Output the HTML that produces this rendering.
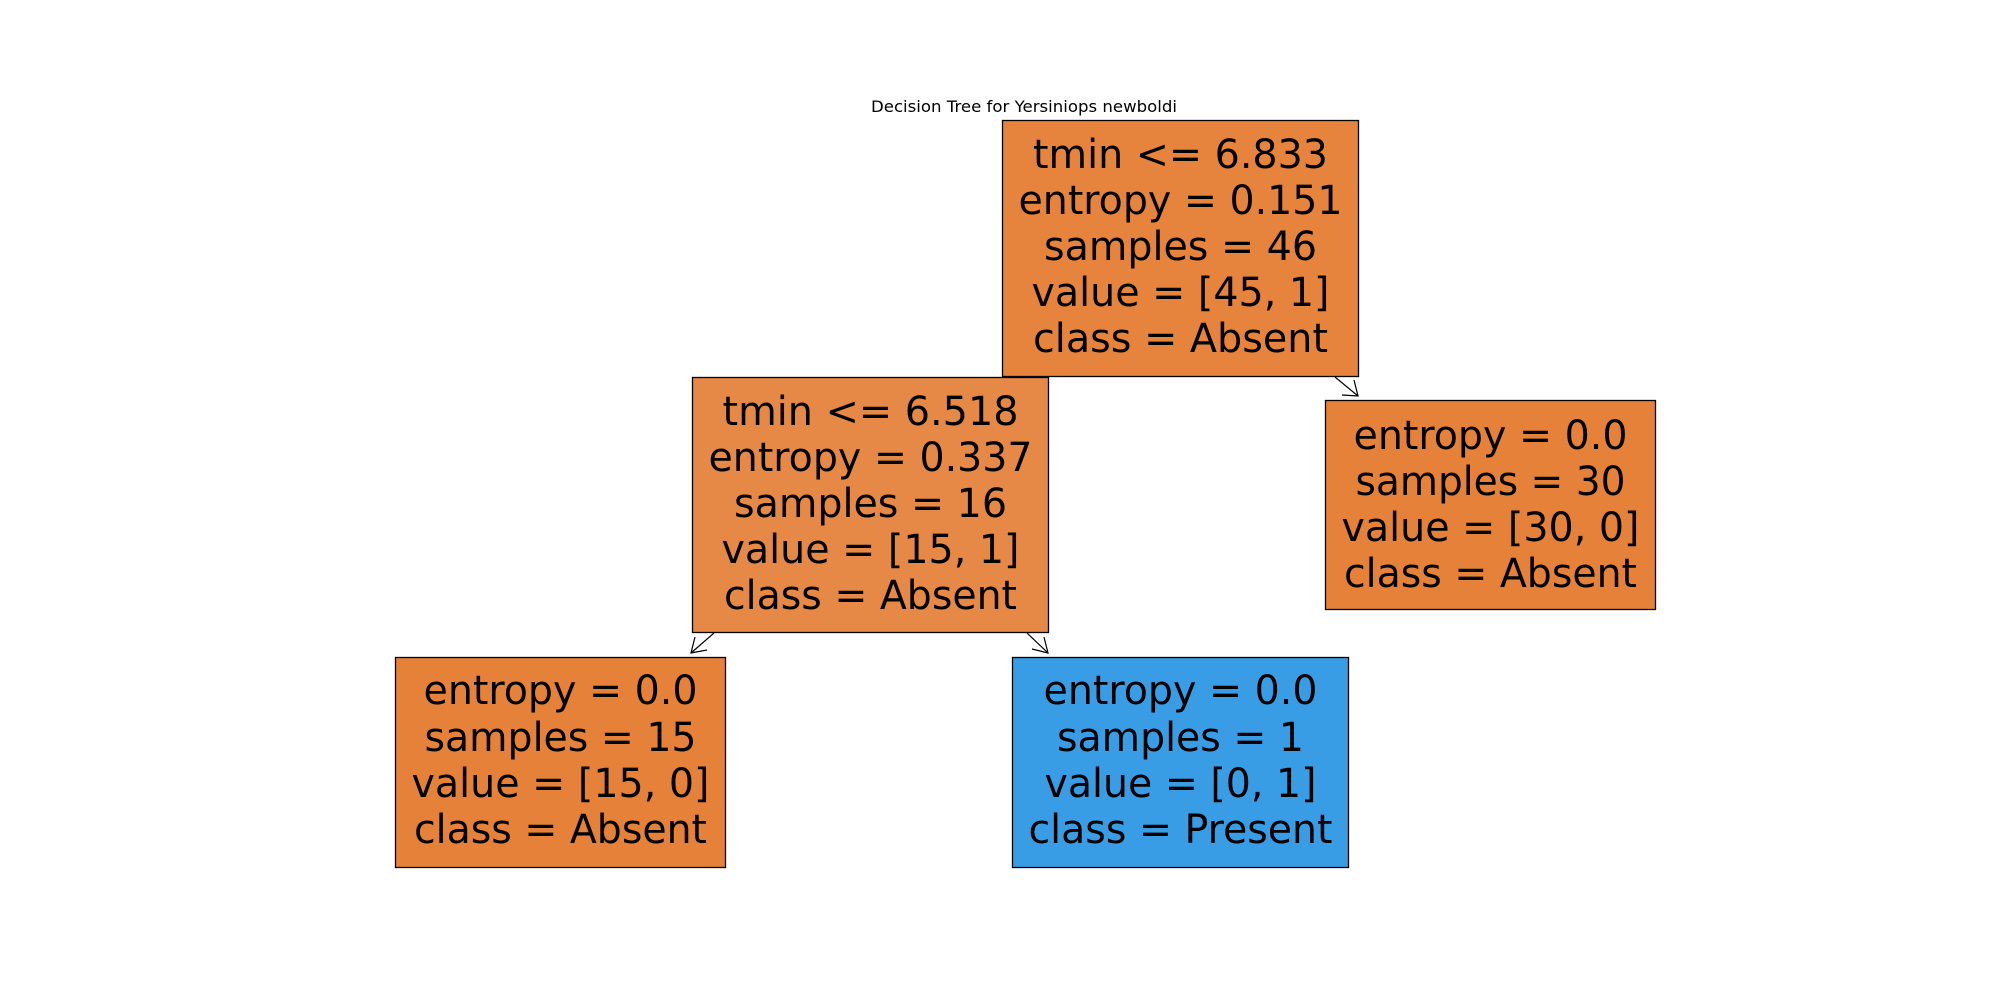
<!DOCTYPE html>
<html><head><meta charset="utf-8"><style>html,body{margin:0;padding:0;background:#fff;}svg{display:block}</style></head>
<body>
<svg width="2000" height="1000" viewBox="0 0 2000 1000" xmlns="http://www.w3.org/2000/svg" font-family="DejaVu Sans, Liberation Sans, sans-serif">
<rect width="2000" height="1000" fill="#fff"/>
<text x="1024" y="112" font-size="16" text-anchor="middle" textLength="306" lengthAdjust="spacingAndGlyphs">Decision Tree for Yersiniops newboldi</text>

<g stroke="#000" stroke-width="1.3">
<rect x="1002.5" y="120.5" width="356" height="256" fill="#e6843e"/>
<rect x="692.5" y="377.5" width="356" height="255" fill="#e78946"/>
<rect x="1325.5" y="400.5" width="330" height="209" fill="#e58139"/>
<rect x="395.5" y="657.5" width="330" height="210" fill="#e58139"/>
<rect x="1012.5" y="657.5" width="336" height="210" fill="#399de5"/>
</g>

<g stroke="#000" stroke-width="1.2" fill="none">
<line x1="1335" y1="377" x2="1358" y2="396"/>
<polyline points="1342,395 1358,396 1354,380"/>
<line x1="714" y1="633" x2="691" y2="653"/>
<polyline points="695,637 691,653 707,650"/>
<line x1="1027" y1="633" x2="1048" y2="653"/>
<polyline points="1032,649 1048,653 1044,637"/>
</g>

<g font-size="40" text-anchor="middle" fill="#000">
<text x="1180.5" y="168" textLength="295" lengthAdjust="spacingAndGlyphs">tmin &lt;= 6.833</text>
<text x="1180.5" y="214" textLength="324" lengthAdjust="spacingAndGlyphs">entropy = 0.151</text>
<text x="1180.5" y="260" textLength="273" lengthAdjust="spacingAndGlyphs">samples = 46</text>
<text x="1180.5" y="306" textLength="298" lengthAdjust="spacingAndGlyphs">value = [45, 1]</text>
<text x="1180.5" y="352" textLength="295" lengthAdjust="spacingAndGlyphs">class = Absent</text>

<text x="870.5" y="425" textLength="296" lengthAdjust="spacingAndGlyphs">tmin &lt;= 6.518</text>
<text x="870.5" y="471" textLength="324" lengthAdjust="spacingAndGlyphs">entropy = 0.337</text>
<text x="870.5" y="517" textLength="273" lengthAdjust="spacingAndGlyphs">samples = 16</text>
<text x="870.5" y="563" textLength="298" lengthAdjust="spacingAndGlyphs">value = [15, 1]</text>
<text x="870.5" y="609" textLength="293" lengthAdjust="spacingAndGlyphs">class = Absent</text>

<text x="1490.5" y="449" textLength="274" lengthAdjust="spacingAndGlyphs">entropy = 0.0</text>
<text x="1490.5" y="495" textLength="270" lengthAdjust="spacingAndGlyphs">samples = 30</text>
<text x="1490.5" y="541" textLength="298" lengthAdjust="spacingAndGlyphs">value = [30, 0]</text>
<text x="1490.5" y="587" textLength="293" lengthAdjust="spacingAndGlyphs">class = Absent</text>

<text x="560.5" y="704" textLength="274" lengthAdjust="spacingAndGlyphs">entropy = 0.0</text>
<text x="560.5" y="751" textLength="272" lengthAdjust="spacingAndGlyphs">samples = 15</text>
<text x="560.5" y="797" textLength="298" lengthAdjust="spacingAndGlyphs">value = [15, 0]</text>
<text x="560.5" y="843" textLength="293" lengthAdjust="spacingAndGlyphs">class = Absent</text>

<text x="1180.5" y="704" textLength="274" lengthAdjust="spacingAndGlyphs">entropy = 0.0</text>
<text x="1180.5" y="751" textLength="247" lengthAdjust="spacingAndGlyphs">samples = 1</text>
<text x="1180.5" y="797" textLength="272" lengthAdjust="spacingAndGlyphs">value = [0, 1]</text>
<text x="1180.5" y="843" textLength="304" lengthAdjust="spacingAndGlyphs">class = Present</text>
</g>
</svg>
</body></html>
